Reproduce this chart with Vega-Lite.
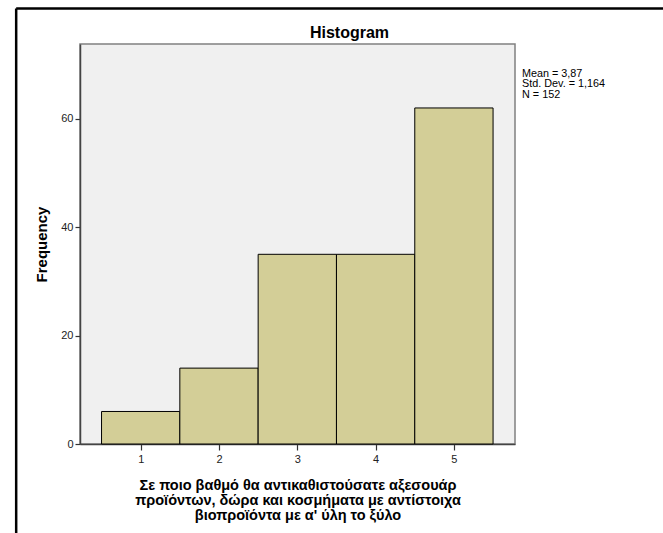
{
  "$schema": "https://vega.github.io/schema/vega-lite/v6.json",
  "width": 435,
  "height": 400,
  "autosize": {"type": "none"},
  "padding": {"left": 80, "top": 44, "right": 148, "bottom": 89},
  "background": "white",
  "title": {
    "text": "Histogram",
    "anchor": "middle",
    "frame": "group",
    "dx": 52,
    "offset": -47,
    "baseline": "alphabetic",
    "font": "Liberation Sans",
    "fontSize": 16,
    "fontWeight": "bold",
    "color": "#000000"
  },
  "config": {
    "view": {"fill": "#f0f0f0", "stroke": "#808080", "strokeWidth": 1.5},
    "axis": {
      "labelFont": "Liberation Sans",
      "labelFontSize": 11,
      "labelColor": "#222222",
      "titleFont": "Liberation Sans",
      "titleFontWeight": "bold",
      "titleColor": "#000000",
      "domainColor": "#444444",
      "domainWidth": 1.5,
      "tickColor": "#333333",
      "tickWidth": 1.2,
      "grid": false
    }
  },
  "data": {
    "values": [
      {"bin_start": 0.5, "bin_end": 1.5, "frequency": 6},
      {"bin_start": 1.5, "bin_end": 2.5, "frequency": 14},
      {"bin_start": 2.5, "bin_end": 3.5, "frequency": 35},
      {"bin_start": 3.5, "bin_end": 4.5, "frequency": 35},
      {"bin_start": 4.5, "bin_end": 5.5, "frequency": 62}
    ]
  },
  "layer": [
    {
      "mark": {"type": "rect", "fill": "#d3ce97", "stroke": "#000000", "strokeWidth": 1},
      "encoding": {
        "x": {
          "field": "bin_start",
          "type": "quantitative",
          "scale": {"domain": [0.225, 5.78], "nice": false, "zero": false},
          "axis": {
            "values": [1, 2, 3, 4, 5],
            "format": "d",
            "tickSize": 6,
            "labelPadding": 3,
            "titlePadding": 14,
            "titleFontSize": 14.5,
            "titleLineHeight": 15,
            "title": ["Σε ποιο βαθμό θα αντικαθιστούσατε αξεσουάρ", "προϊόντων, δώρα και κοσμήματα με αντίστοιχα", "βιοπροϊόντα με α' ύλη το ξύλο"]
          }
        },
        "x2": {"field": "bin_end"},
        "y": {
          "field": "frequency",
          "type": "quantitative",
          "scale": {"domain": [0, 73.8], "nice": false},
          "axis": {
            "values": [0, 20, 40, 60],
            "tickSize": 5,
            "labelPadding": 2,
            "titlePadding": 11,
            "titleFontSize": 15,
            "title": "Frequency"
          }
        },
        "y2": {"datum": 0}
      }
    },
    {
      "data": {"values": [{"label": "stats"}]},
      "mark": {
        "type": "text",
        "align": "left",
        "baseline": "top",
        "font": "Liberation Sans",
        "fontSize": 10.8,
        "lineHeight": 10.5,
        "color": "#000000",
        "text": ["Mean = 3,87", "Std. Dev. = 1,164", "N = 152"]
      },
      "encoding": {
        "x": {"datum": 5.87},
        "y": {"datum": 69.4}
      }
    },
    {
      "data": {"values": [{"label": "frame"}]},
      "mark": {"type": "rule", "color": "#000000", "strokeWidth": 2.5},
      "encoding": {
        "x": {"datum": -0.59},
        "y": {"datum": 80.35},
        "y2": {"datum": -30}
      }
    },
    {
      "data": {"values": [{"label": "frame"}]},
      "mark": {"type": "rule", "color": "#000000", "strokeWidth": 2.5},
      "encoding": {
        "y": {"datum": 80.35},
        "x": {"datum": -0.59},
        "x2": {"datum": 9}
      }
    }
  ]
}
